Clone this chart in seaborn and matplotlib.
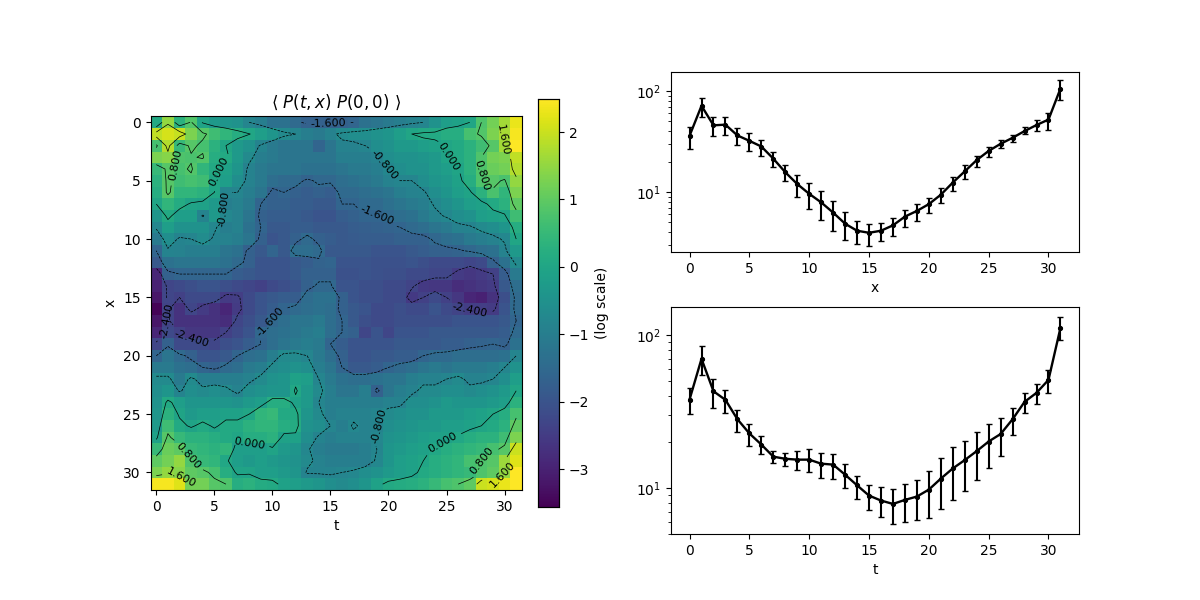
import numpy as np
import matplotlib
matplotlib.use("Agg")
import matplotlib.pyplot as plt
import seaborn as sns

positions = list(range(32))
tick_values = [0, 5, 10, 15, 20, 25, 30]
levels = [-2.4, -1.6, -0.8, 0.0, 0.8, 1.6]

x_mean = [36.0,71.3,45.7,46.4,36.3,32.1,28.2,21.4,15.7,12.0,9.6,7.9,6.26,4.86,4.14,3.95,4.14,4.68,5.71,6.5,7.59,9.4,12.4,16.0,20.7,25.5,30.0,34.4,40.1,46.0,52.1,105.5]
x_high = [44.0,85.8,55.4,55.4,43.0,38.3,32.6,24.7,18.3,14.6,12.4,10.3,8.19,6.36,5.17,4.79,4.97,5.54,6.61,7.64,8.78,11.05,14.1,18.3,22.9,27.8,32.6,36.6,43.7,51.3,60.3,129.8]
x_low = [26.5,55.4,35.8,36.6,29.1,25.7,22.9,17.8,13.0,8.98,6.81,5.33,4.1,3.34,3.04,2.95,3.24,3.66,4.5,5.21,6.21,7.82,10.3,13.6,17.5,22.4,27.1,31.2,37.4,40.1,41.4,80.7]

t_mean = [37.8,69.7,42.8,37.6,28.1,22.7,19.2,16.0,15.5,15.3,15.3,14.4,14.2,12.2,10.4,8.91,8.27,7.86,8.35,8.78,9.75,11.5,13.4,15.2,17.4,20.1,22.5,28.1,36.5,41.8,50.8,111.0]
t_high = [45.0,84.7,51.6,43.7,32.3,26.2,21.9,17.4,16.9,17.4,18.0,16.9,16.7,14.4,12.0,10.5,10.2,9.85,10.6,11.3,12.9,15.7,18.5,20.3,23.2,26.2,28.7,33.3,41.8,47.8,59.0,131.0]
t_low = [30.5,54.8,33.3,30.9,23.2,18.9,16.7,14.6,13.9,13.1,12.7,11.6,11.4,10.0,8.47,7.18,6.46,5.82,6.0,6.18,6.37,7.29,8.35,9.56,11.3,13.5,16.2,22.2,30.9,35.4,41.8,92.7]

log_corr = np.array([
[0.1,1.5,0.3,0.85,-0.05,-0.3,-0.4,-0.5,-0.8,-1.0,-1.3,-1.3,-1.5,-1.7,-1.7,-1.7,-1.7,-1.6,-1.3,-1.2,-1.1,-1.0,-0.9,-0.8,-0.5,-0.2,-0.1,0.0,0.8,1.2,1.65,2.3],
[1.9,2.1,1.95,1.3,0.9,0.6,0.4,0.2,0.02,-0.2,-0.4,-0.7,-0.8,-1.0,-1.1,-0.9,-0.7,-0.6,-0.6,-0.5,-0.4,-0.2,0.0,0.1,0.1,0.2,0.2,0.7,0.85,1.3,1.7,2.4],
[0.7,1.8,0.5,0.9,0.7,0.3,0.0,-0.3,-0.5,-0.85,-1.1,-1.2,-1.2,-1.2,-1.6,-1.2,-0.9,-0.9,-0.8,-0.6,-0.5,-0.3,-0.3,-0.2,-0.1,0.0,0.1,0.3,0.6,0.9,1.65,2.5],
[1.3,1.4,0.8,0.75,0.85,0.2,0.1,-0.3,-0.7,-1.0,-1.1,-1.2,-1.2,-1.2,-1.2,-1.2,-1.0,-1.0,-1.0,-0.9,-0.6,-0.5,-0.5,-0.4,-0.3,-0.02,0.1,0.3,0.8,1.2,1.3,1.9],
[0.5,0.9,0.7,0.85,0.4,0.1,-0.1,-0.4,-0.9,-1.1,-1.2,-1.2,-1.2,-1.3,-1.3,-1.3,-1.2,-1.1,-1.1,-1.0,-0.75,-0.6,-0.5,-0.5,-0.3,-0.2,-0.02,0.3,0.8,1.1,1.2,1.8],
[0.3,0.9,0.6,0.7,0.6,0.0,-0.2,-0.6,-0.9,-1.1,-1.4,-1.5,-1.5,-1.65,-1.55,-1.55,-1.4,-1.3,-1.2,-1.1,-0.9,-0.8,-0.8,-0.6,-0.4,-0.3,-0.1,0.2,0.8,0.9,0.75,1.5],
[0.2,0.9,0.4,0.4,0.3,0.0,-0.8,-0.8,-1.0,-1.2,-1.7,-1.6,-1.7,-1.8,-1.7,-1.8,-1.5,-1.5,-1.4,-1.3,-1.2,-1.0,-0.9,-0.85,-0.6,-0.4,-0.2,-0.05,0.3,0.75,0.4,1.3],
[0.0,0.4,0.15,-0.05,-0.1,-0.3,-1.0,-0.9,-1.1,-1.6,-1.7,-1.7,-1.8,-1.8,-1.9,-1.9,-1.6,-1.6,-1.5,-1.5,-1.35,-1.2,-1.1,-1.0,-0.75,-0.6,-0.4,-0.2,-0.1,0.1,0.3,1.0],
[-0.4,0.1,-0.2,-0.2,-0.85,-0.3,-0.75,-0.9,-1.2,-1.7,-1.8,-1.8,-1.8,-1.9,-2.0,-2.0,-1.8,-1.7,-1.6,-1.6,-1.5,-1.4,-1.3,-1.1,-0.9,-0.75,-0.6,-0.5,-0.2,-0.1,-0.05,0.6],
[-0.75,-0.2,-0.5,-0.5,-0.5,-0.75,-1.0,-0.9,-1.3,-1.6,-1.9,-1.9,-1.8,-1.8,-1.9,-1.9,-1.9,-1.8,-1.75,-1.7,-1.65,-1.6,-1.5,-1.4,-1.2,-1.1,-0.9,-0.85,-0.7,-0.6,-0.4,0.2],
[-1.1,-0.6,-0.85,-0.8,-0.65,-0.85,-0.9,-1.0,-1.2,-1.7,-2.0,-1.9,-1.7,-1.5,-1.7,-1.8,-1.9,-1.85,-1.8,-1.8,-1.8,-1.7,-1.7,-1.7,-1.55,-1.4,-1.3,-1.1,-1.0,-0.9,-0.75,0.0],
[-1.6,-0.85,-0.9,-1.0,-1.0,-1.0,-1.2,-1.3,-1.7,-1.9,-1.6,-1.9,-1.4,-1.4,-1.5,-1.9,-1.9,-1.9,-1.9,-2.0,-2.0,-2.0,-1.9,-1.8,-1.7,-1.7,-1.65,-1.55,-1.4,-1.3,-0.9,-0.3],
[-1.9,-1.3,-1.2,-1.2,-1.2,-1.2,-1.3,-1.5,-1.7,-2.0,-2.0,-2.0,-1.9,-1.8,-1.65,-1.6,-2.0,-2.0,-2.0,-2.05,-2.05,-2.05,-2.0,-2.1,-2.2,-2.2,-2.2,-2.3,-2.2,-1.7,-1.3,-0.7],
[-2.9,-1.7,-1.6,-1.6,-1.6,-1.6,-1.6,-1.8,-1.9,-2.0,-2.0,-2.0,-1.9,-1.7,-1.7,-1.7,-2.05,-2.05,-2.0,-2.05,-2.1,-2.1,-2.2,-2.2,-2.3,-2.3,-2.5,-2.6,-2.5,-2.4,-1.8,-1.1],
[-3.0,-2.3,-2.2,-2.1,-2.0,-2.0,-2.1,-2.2,-2.3,-2.4,-2.2,-2.1,-2.0,-1.7,-1.55,-1.55,-2.0,-2.0,-2.1,-2.1,-2.2,-2.2,-2.35,-2.55,-2.6,-2.6,-2.8,-2.7,-2.6,-2.5,-1.9,-1.4],
[-3.2,-2.3,-2.4,-2.2,-2.2,-2.2,-2.5,-2.45,-2.2,-2.0,-1.9,-1.8,-1.8,-1.45,-1.3,-1.3,-1.7,-2.0,-2.1,-2.1,-2.2,-2.2,-2.55,-2.4,-2.2,-2.4,-2.6,-2.9,-3.0,-2.7,-2.1,-1.5],
[-3.5,-2.35,-2.7,-2.3,-2.5,-2.7,-2.9,-2.5,-2.2,-2.0,-1.8,-1.6,-1.5,-1.4,-1.3,-1.4,-1.7,-1.9,-2.0,-2.2,-2.2,-2.1,-2.2,-2.2,-2.0,-2.2,-2.35,-2.45,-2.45,-2.5,-2.0,-1.5],
[-3.2,-2.35,-2.7,-2.7,-2.7,-2.7,-2.8,-2.3,-2.1,-1.9,-1.55,-1.4,-1.2,-1.2,-1.1,-1.4,-1.6,-1.9,-2.1,-2.2,-2.2,-2.1,-2.1,-2.1,-2.1,-2.1,-2.0,-2.0,-2.0,-2.0,-1.9,-1.6],
[-2.9,-2.2,-2.4,-2.6,-2.6,-2.6,-2.4,-2.2,-2.0,-1.55,-1.4,-1.3,-1.2,-1.1,-1.0,-1.4,-1.6,-1.7,-2.3,-2.0,-2.3,-2.0,-2.0,-2.0,-1.9,-1.9,-1.9,-1.9,-1.9,-1.9,-1.8,-1.5],
[-2.3,-1.7,-2.2,-2.2,-2.2,-2.3,-2.1,-2.0,-1.8,-1.6,-1.4,-1.2,-1.1,-1.0,-1.1,-1.6,-1.8,-2.0,-2.0,-2.0,-2.0,-1.9,-1.9,-1.9,-1.9,-1.8,-1.8,-1.7,-1.65,-1.6,-1.7,-1.3],
[-1.6,-1.2,-1.5,-1.7,-2.0,-2.0,-1.9,-1.6,-1.4,-1.3,-1.0,-0.7,-0.7,-0.8,-1.1,-1.4,-1.7,-2.0,-2.0,-1.9,-1.9,-1.8,-1.8,-1.6,-1.5,-1.5,-1.4,-1.4,-1.4,-1.4,-1.3,-0.8],
[-1.1,-1.1,-1.3,-1.4,-1.6,-1.7,-1.5,-1.4,-1.1,-1.0,-0.7,-0.6,-0.5,-0.6,-1.0,-1.2,-1.6,-1.9,-1.9,-1.8,-1.6,-1.5,-1.4,-1.2,-1.1,-1.2,-1.1,-1.1,-1.1,-1.0,-0.8,-0.5],
[-0.7,-0.7,-1.1,-0.7,-1.0,-1.0,-1.0,-1.0,-0.9,-0.7,-0.5,-0.4,-0.1,-0.2,-0.8,-1.1,-1.3,-1.4,-1.4,-1.3,-1.2,-1.2,-1.0,-0.9,-0.9,-0.8,-0.7,-0.9,-0.9,-0.8,-0.6,-0.2],
[-0.6,-0.4,-0.85,-0.6,-0.7,-0.6,-0.7,-0.9,-0.6,-0.5,-0.4,-0.4,0.05,-0.3,-0.7,-1.0,-1.2,-1.2,-1.0,-1.7,-1.2,-1.0,-0.9,-0.7,-0.7,-0.6,-0.6,-0.7,-0.6,-0.5,-0.3,0.0],
[-0.5,0.1,-0.2,-0.4,-0.4,-0.4,-0.4,-0.5,-0.3,-0.2,0.2,0.2,-0.1,-0.3,-0.8,-1.0,-1.0,-1.0,-1.0,-1.0,-0.9,-0.9,-0.6,-0.6,-0.5,-0.3,-0.4,-0.4,-0.4,-0.3,-0.2,0.3],
[-0.4,0.3,-0.05,-0.3,-0.2,-0.2,-0.1,-0.1,0.0,0.4,0.5,0.1,0.1,-0.4,-0.7,-1.0,-0.9,-0.9,-0.9,-0.8,-0.7,-0.6,-0.5,-0.5,-0.3,-0.3,-0.3,-0.2,-0.1,0.0,0.2,0.7],
[-0.3,0.6,0.1,-0.05,0.1,-0.05,0.1,0.1,0.3,0.4,0.4,0.2,0.15,-0.5,-0.6,-0.8,-1.0,-0.75,-0.9,-0.85,-0.6,-0.5,-0.4,-0.3,-0.3,-0.2,-0.2,-0.1,0.0,0.1,0.3,1.0],
[-0.1,0.9,0.5,0.3,0.3,0.2,0.1,0.0,0.2,0.2,0.3,-0.1,-0.1,-0.6,-0.85,-1.0,-0.9,-0.9,-0.9,-0.75,-0.5,-0.4,-0.3,-0.2,-0.1,-0.1,0.05,0.2,0.3,0.3,0.6,1.3],
[0.5,1.1,1.0,0.5,0.4,0.3,0.4,-0.2,-0.2,-0.2,-0.05,-0.3,-0.4,-0.75,-1.0,-1.1,-1.1,-1.1,-1.0,-0.8,-0.4,-0.3,-0.2,-0.1,0.05,0.2,0.3,0.4,0.5,0.7,0.9,2.0],
[1.0,1.2,1.5,0.8,0.5,0.4,0.05,-0.2,-0.3,-0.2,-0.3,-0.4,-0.5,-0.7,-0.9,-1.0,-1.0,-1.0,-1.0,-0.75,-0.4,-0.2,-0.1,0.0,0.2,0.3,0.4,0.7,0.8,0.9,1.6,2.2],
[1.3,1.5,1.4,1.0,0.9,0.7,0.2,-0.05,-0.05,-0.2,-0.2,-0.3,-0.4,-0.85,-0.85,-0.85,-0.8,-0.75,-0.6,-0.5,-0.3,-0.2,-0.1,0.1,0.2,0.3,0.4,0.5,0.8,1.0,1.5,2.5],
[2.4,2.4,2.2,1.2,1.2,0.9,0.8,0.2,0.3,0.15,0.1,-0.1,-0.2,-0.3,-0.4,-0.6,-0.7,-0.6,-0.4,-0.1,0.1,0.15,0.2,0.3,0.5,0.7,0.8,1.0,2.0,2.1,2.3,2.5],
])

label_spots = [(14.8,0.4),(1.5,3.6),(5,4),(5.5,7.5),(25,3),(20.5,3.2),(19.0,6.7),(28,4.5),(29.9,1.5),
               (0.9,17),(3,18.7),(9.7,17),(27,16.5),(19.4,26),(8,28.7),(24.5,27),(2,29),(2,30.6),(27.7,29),(29.7,30)]

W, H = 1200, 600
def box(l, t, r, b):
    return [l / W, 1 - b / H, (r - l) / W, (b - t) / H]

fig = plt.figure(figsize=(12, 6), dpi=100)
ax = fig.add_axes(box(150.5, 116.5, 522, 490))
cax = fig.add_axes(box(538, 99, 559, 507))
ax_x = fig.add_axes(box(671, 72, 1079, 252))
ax_t = fig.add_axes(box(671, 307, 1079, 534))

sns.heatmap(log_corr, ax=ax, cbar_ax=cax, cmap="viridis", vmin=-3.56, vmax=2.49,
            cbar_kws={"label": "(log scale)"}, xticklabels=False, yticklabels=False)
for s in ax.spines.values():
    s.set_visible(True)
    s.set_linewidth(0.8)
for s in cax.spines.values():
    s.set_visible(True)
    s.set_linewidth(0.8)
cax.tick_params(labelsize=10, length=3.5, width=0.8)
cax.set_ylabel("(log scale)", fontsize=10)
cax.set_yticks([-3, -2, -1, 0, 1, 2])

centers = np.arange(32) + 0.5
cs = ax.contour(centers, centers, log_corr, levels=levels, colors="k", linewidths=0.5)
ax.clabel(cs, fmt="%.3f", fontsize=8, inline=True,
          manual=[(a + 0.5, b + 0.5) for a, b in label_spots])
ax.set_xticks(np.array(tick_values) + 0.5, labels=[str(v) for v in tick_values])
ax.set_yticks(np.array(tick_values) + 0.5, labels=[str(v) for v in tick_values], rotation=0)
ax.tick_params(length=3.5, width=0.8, labelsize=10, bottom=True, left=True)
ax.set_xlabel("t", fontsize=10)
ax.set_ylabel("x", fontsize=10)
ax.set_title(r"$\langle\ P(t,x)\ P(0,0)\ \rangle$", fontsize=12)

def profile(a, mean, low, high, xlabel, ylim):
    mean, low, high = map(np.array, (mean, low, high))
    sns.lineplot(x=positions, y=mean, ax=a, color="k", linewidth=1.7, marker=".",
                 markersize=6, markeredgecolor="k", errorbar=None)
    a.errorbar(positions, mean, yerr=[mean - low, high - mean], fmt="none",
               ecolor="k", elinewidth=1.5, capsize=2, capthick=1)
    a.set_yscale("log")
    a.set_xlim(-1.55, 32.55)
    a.set_ylim(*ylim)
    a.set_xticks(tick_values)
    a.set_xlabel(xlabel, fontsize=10)
    a.tick_params(labelsize=10)

profile(ax_x, x_mean, x_low, x_high, "x", (2.55, 154))
profile(ax_t, t_mean, t_low, t_high, "t", (5.0, 152))

fig.savefig("out.png", dpi=100)
